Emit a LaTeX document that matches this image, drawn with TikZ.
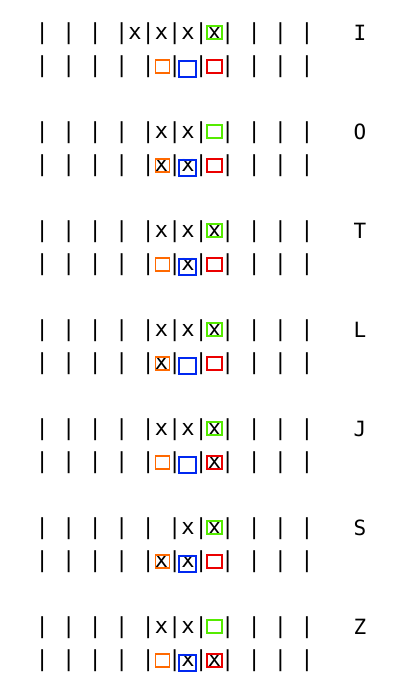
\documentclass[tikz,border=0pt]{standalone}
\usepackage{fontspec}
\setmonofont{DejaVu Sans Mono}
\definecolor{probegreen}{RGB}{85,235,0}
\definecolor{probeorange}{RGB}{255,105,0}
\definecolor{probeblue}{RGB}{0,40,240}
\definecolor{probered}{RGB}{235,0,0}
\tikzset{
  rowtext/.style={anchor=base west, inner sep=0pt, font=\ttfamily\fontsize{22}{22}\selectfont},
  piecename/.style={anchor=base, inner sep=0pt, font=\ttfamily\fontsize{21}{21}\selectfont},
  probe/.style={line width=1.8pt}
}

\begin{document}
\begin{tikzpicture}[x=1pt,y=-1pt]
\useasboundingbox (0,0) rectangle (418,687);
\foreach \piece/\upper/\lower [count=\k from 0] in {
    I/{| | | |x|x|x|x| | | |}/{| | | | | | | | | | |},
    O/{| | | | |x|x| | | | |}/{| | | | |x|x| | | | |},
    T/{| | | | |x|x|x| | | |}/{| | | | | |x| | | | |},
    L/{| | | | |x|x|x| | | |}/{| | | | |x| | | | | |},
    J/{| | | | |x|x|x| | | |}/{| | | | | | |x| | | |},
    S/{| | | | | |x|x| | | |}/{| | | | |x|x| | | | |},
    Z/{| | | | |x|x| | | | |}/{| | | | | |x|x| | | |}}
{
    \pgfmathsetmacro{\ra}{32.5+99*\k}
    \pgfmathsetmacro{\rb}{65.5+99*\k}
    \node [rowtext] (up\piece) at (35.4, \ra+7) {\upper};
    \node [rowtext] (low\piece) at (35.4, \rb+7) {\lower};
    \node [piecename] (name\piece) at (360, \ra+7.8) {\piece};
    % test cells
    \draw [probe, draw=probegreen] (207, \ra-6.5) rectangle ++(15,13);
    \draw [probe, draw=probeorange] (155.5, \rb-5.5) rectangle ++(14,13);
    \draw [probe, draw=probeblue] (179, \rb-4.5) rectangle ++(17,16);
    \draw [probe, draw=probered] (207, \rb-5.5) rectangle ++(15,13);
}
\end{tikzpicture}
\end{document}
